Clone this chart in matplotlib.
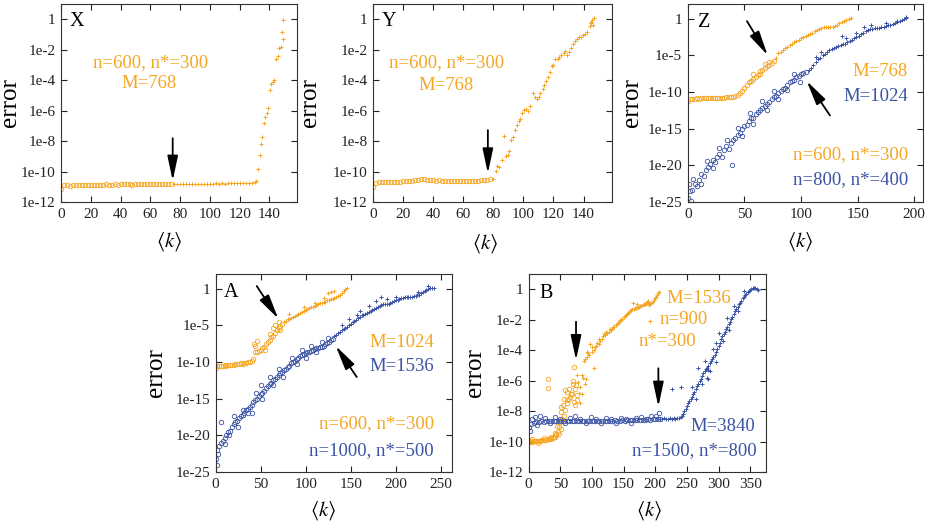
import numpy as np
import matplotlib
matplotlib.use("Agg")
import matplotlib.pyplot as plt
from matplotlib.ticker import NullLocator

plt.rcParams['font.family'] = ['Liberation Serif', 'DejaVu Serif']
plt.rcParams['mathtext.fontset'] = 'stix'

ORANGE = '#F5A623'
BLUE = '#3B53A4'

# values are log10(error), k = <k>

# ---- panel X ----
x_circ_k = np.arange(0, 76, 2)
x_circ_e = [-11.15, -10.9, -10.88, -10.92, -10.9, -10.88, -10.9, -10.86, -10.9, -10.88,
            -10.87, -10.9, -10.88, -10.86, -10.88, -10.85, -10.87, -10.86, -10.84, -10.86,
            -10.84, -10.82, -10.85, -10.83, -10.86, -10.84, -10.83, -10.85, -10.83, -10.84,
            -10.82, -10.83, -10.84, -10.82, -10.83, -10.81, -10.82, -10.81]
x_plus_k = np.arange(76, 131, 2)
x_plus_e = [-10.82, -10.81, -10.82, -10.8, -10.81, -10.8, -10.81, -10.8, -10.79, -10.8,
            -10.8, -10.79, -10.8, -10.79, -10.78, -10.79, -10.78, -10.79, -10.78, -10.77,
            -10.78, -10.77, -10.78, -10.77, -10.76, -10.77, -10.75, -10.72]
x_rise_k = [131.0, 132.4, 133.5, 134.4, 135.1, 136.4, 137.3, 138.2, 139.1, 140.2,
            141.3, 142.4, 143.3, 144.3, 145.4, 146.3, 147.4, 148.3, 149.2, 149.4]
x_rise_e = [-10.6, -9.84, -8.92, -8.2, -7.76, -6.84, -6.45, -6.18, -5.82, -4.63,
            -4.24, -4.11, -3.96, -2.62, -2.4, -1.92, -1.84, -0.87, -1.27, -0.07]

# ---- panel Y ----
y_circ_k = np.arange(0, 80, 2)
y_circ_e = [-11.0, -10.75, -10.7, -10.68, -10.7, -10.68, -10.72, -10.68, -10.7, -10.66,
            -10.65, -10.63, -10.62, -10.6, -10.58, -10.57, -10.52, -10.5, -10.55, -10.56,
            -10.57, -10.6, -10.58, -10.6, -10.61, -10.6, -10.62, -10.6, -10.61, -10.6,
            -10.62, -10.6, -10.61, -10.6, -10.59, -10.6, -10.57, -10.58, -10.55, -10.5]
y_plus_k = [80.0, 81.6, 82.7, 84.0, 85.6, 87.1, 88.3, 89.6, 90.7, 92.0,
            93.1, 94.5, 95.8, 96.9, 98.0, 99.1, 100.5, 101.8, 103.1, 104.5,
            106.5, 107.8, 109.1, 110.3, 111.3, 112.7, 114.0, 115.1, 116.5, 117.8,
            119.1, 120.0, 121.3, 122.7, 124.0, 125.3, 126.7, 127.8, 128.9, 130.3,
            131.6, 132.9, 134.3, 135.6, 136.9, 138.3, 139.6, 140.9, 142.3, 144.0,
            144.9, 145.8, 146.7, 145.3, 146.3]
y_plus_e = [-10.49, -9.95, -9.62, -9.68, -9.27, -7.69, -8.98, -8.92, -8.66, -7.93,
            -7.76, -7.28, -6.95, -6.69, -6.58, -6.18, -5.97, -5.9, -6.03, -5.7,
            -4.87, -5.09, -5.22, -5.11, -4.87, -4.59, -4.33, -4.07, -3.78, -3.45,
            -3.08, -3.02, -2.62, -2.58, -2.49, -2.38, -2.25, -2.1, -2.32, -2.14,
            -1.92, -1.64, -1.4, -1.33, -1.2, -1.14, -1.05, -0.96, -0.87, -0.44,
            -0.28, -0.07, 0.05, -0.2, -0.35]

# ---- panel Z ----
z_o_flat_k = np.arange(0, 44, 2)
z_o_flat_e = [-11.2, -10.95, -10.9, -10.92, -10.88, -10.9, -10.87, -10.88, -10.85, -10.86, -10.84,
              -10.85, -10.82, -10.83, -10.8, -10.8, -10.78, -10.75, -10.72, -10.7, -10.65, -10.55]
z_o_circ_k = np.arange(44, 78, 2)
z_o_circ_e = [-10.4, -10.1, -9.8, -9.5, -9.1, -8.7, -8.5, -8.2, -8.0, -7.7, -7.6, -7.0,
              -6.7, -6.5, -6.3, -6.0, -5.8]
z_o_xtra_k = [50, 56, 58, 64, 68, 72]
z_o_xtra_e = [-9.4, -8.5, -7.5, -7.2, -6.2, -5.9]
z_o_plus_k = np.arange(78, 145, 2)
z_o_plus_e = [-5.3, -4.7, -4.5, -4.25, -4.0, -3.85, -3.6, -3.4, -3.25, -3.05,
              -2.85, -2.65, -2.5, -2.4, -2.25, -2.15, -1.95, -1.75, -1.55, -1.45,
              -1.3, -1.15, -1.1, -1.1, -1.12, -1.08, -1.0, -0.8, -0.65, -0.5,
              -0.35, -0.15, -0.02, 0.05]
z_b_circ_k = np.arange(0, 106, 2)
z_b_circ_e = [-24.5, -23.5, -23.3, -22.5, -22.8, -22.0, -21.2, -21.5, -20.6, -20.2,
              -19.8, -19.3, -19.6, -18.8, -18.5, -18.9, -17.9, -17.4, -17.8, -16.9,
              -16.6, -16.3, -15.9, -15.6, -15.0, -14.7, -14.5, -14.0, -13.6, -13.5,
              -13.0, -12.7, -12.4, -12.2, -11.9, -11.6, -11.4, -11.0, -10.7, -10.5,
              -10.1, -9.9, -9.6, -9.5, -9.0, -8.7, -8.5, -8.3, -8.0, -7.8,
              -7.6, -7.4, -7.3]
z_b_xtra_k = [1, 3, 5, 12, 17, 22, 28, 39, 35, 44, 48, 55, 58, 66, 70, 76, 80, 88, 94, 99]
z_b_xtra_e = [-22.5, -24.8, -21.8, -22.6, -19.4, -20.3, -17.6, -20.0, -16.6, -14.9,
              -16.0, -12.9, -14.3, -11.2, -12.4, -9.9, -11.0, -9.7, -7.6, -8.6]
z_b_plus_k = np.arange(107, 195, 2)
z_b_plus_e = [-7.0, -6.7, -6.3, -5.9, -5.5, -5.3, -5.0, -4.8, -4.6, -4.3,
              -4.1, -4.0, -3.85, -3.75, -3.6, -3.5, -3.4, -3.2, -3.05, -2.9,
              -2.7, -2.5, -2.3, -2.1, -1.9, -1.75, -1.6, -1.45, -1.35, -1.28,
              -1.25, -1.22, -1.2, -1.18, -1.05, -0.9, -0.85, -0.75, -0.6, -0.5,
              -0.35, -0.2, -0.05, 0.1]
z_b_pxtra_k = [113, 118, 136, 140, 149, 156, 162, 175, 185, 193]
z_b_pxtra_e = [-5.2, -4.6, -2.4, -2.7, -1.9, -1.2, -0.9, -0.6, -0.3, 0.25]

# ---- panel A ----
a_o_flat_k = np.arange(0, 42, 2)
a_o_flat_e = [-10.8, -10.6, -10.55, -10.5, -10.52, -10.45, -10.48, -10.4, -10.42, -10.35,
              -10.38, -10.3, -10.3, -10.25, -10.2, -10.22, -10.15, -10.1, -10.05, -10.0, -9.9]
a_o_circ_k = np.arange(42, 76, 2)
a_o_circ_e = [-9.6, -8.7, -8.6, -8.5, -8.3, -8.1, -7.9, -7.6, -7.3, -7.0, -6.6, -6.4,
              -6.0, -5.6, -5.4, -5.1, -4.8]
a_o_xtra_k = [43, 44, 46, 55, 60, 64, 66, 70, 72]
a_o_xtra_e = [-7.5, -7.8, -7.2, -8.3, -6.2, -5.3, -5.0, -4.6, -5.6]
a_o_plus_k = np.arange(76, 148, 2)
a_o_plus_e = [-4.5, -4.35, -4.2, -4.1, -4.0, -3.85, -3.7, -3.55, -3.4, -3.3,
              -3.15, -3.0, -2.85, -2.75, -2.6, -2.5, -2.45, -2.35, -2.25, -2.1,
              -2.0, -1.95, -1.85, -1.75, -1.6, -1.5, -1.4, -1.35, -1.25, -1.1,
              -0.95, -0.8, -0.55, -0.3, -0.05, 0.15]
a_o_pxtra_k = [82, 98, 110, 120, 125, 128, 132]
a_o_pxtra_e = [-3.4, -2.5, -1.9, -1.3, -0.6, -0.5, -0.35]
a_b_circ_k = np.arange(0, 132, 2)
a_b_circ_e = [-23.2, -22.0, -21.4, -21.0, -20.8, -20.3, -19.9, -19.6, -19.4, -18.9,
              -18.5, -18.2, -18.1, -17.7, -17.4, -17.2, -17.0, -16.6, -16.4, -16.1,
              -15.8, -15.4, -15.2, -15.0, -14.7, -14.4, -14.2, -13.9, -13.6, -13.3,
              -13.0, -12.8, -12.5, -12.3, -12.1, -11.8, -11.5, -11.3, -11.1, -10.9,
              -10.7, -10.5, -10.2, -10.0, -9.8, -9.6, -9.4, -9.2, -9.1, -8.9,
              -8.8, -8.7, -8.6, -8.5, -8.35, -8.2, -8.15, -8.1, -8.0, -7.95,
              -7.8, -7.6, -7.4, -7.25, -7.0, -6.8]
a_b_xtra_k = [1, 3, 6, 10, 15, 20, 25, 30, 36, 40, 45, 50, 52, 60, 64, 70, 75, 85, 90,
              96, 100, 106, 112, 118, 125]
a_b_xtra_e = [-24.0, -22.6, -18.2, -21.2, -20.0, -17.4, -18.8, -16.5, -17.0, -16.9,
              -14.2, -13.2, -15.0, -12.0, -13.2, -10.9, -12.0, -9.5, -10.3, -8.3,
              -9.4, -7.8, -8.6, -7.3, -6.7]
a_b_plus_k = np.arange(132, 244, 2)
a_b_plus_e = [-6.5, -6.3, -6.1, -5.9, -5.7, -5.55, -5.4, -5.2, -5.0, -4.8,
              -4.6, -4.45, -4.3, -4.0, -3.8, -3.65, -3.55, -3.45, -3.3, -3.2,
              -3.1, -2.95, -2.8, -2.7, -2.55, -2.4, -2.25, -2.15, -2.1, -2.1,
              -2.05, -2.0, -1.85, -1.7, -1.6, -1.5, -1.4, -1.3, -1.25, -1.2,
              -1.18, -1.15, -1.12, -1.1, -1.05, -1.0, -0.9, -0.8, -0.65, -0.5,
              -0.35, -0.2, -0.05, 0.05, 0.1, 0.05]
a_b_pxtra_k = [140, 148, 157, 160, 170, 178, 184, 190, 200, 225, 236]
a_b_pxtra_e = [-4.9, -4.2, -3.6, -3.0, -2.4, -1.7, -1.2, -1.4, -1.1, -0.4, 0.3]

# ---- panel B ----
b_o_flat_k = np.arange(0, 46, 2)
b_o_flat_e = [-10.05, -10.0, -9.98, -10.0, -9.97, -9.98, -9.95, -9.97, -9.94, -9.95,
              -9.92, -9.93, -9.9, -9.92, -9.88, -9.86, -9.85, -9.8, -9.82, -9.75,
              -9.72, -9.7, -9.6]
b_o_circ_k = [5, 15, 25, 35, 42, 44, 46.5, 47.6, 48, 49.2, 50.5, 51.9, 50.9, 53, 54.5,
              55.5, 56.1, 57.5, 58.3, 60, 61.5, 61.5, 63.6, 64.5, 65.2, 66.5, 67.9, 69.5,
              70.5, 71.5, 72.2, 73.2, 73.5, 75, 75.9, 75.9, 30.5, 30.5, 45]
b_o_circ_e = [-9.85, -10.1, -9.8, -9.7, -9.45, -9.5, -9.4, -9.05, -9.5, -8.72, -9.2,
              -8.06, -7.75, -8.5, -7.62, -8.3, -7.19, -7.9, -6.64, -7.3, -6.75, -7.5,
              -6.53, -7.2, -7.08, -6.9, -6.86, -6.2, -6.05, -7.4, -5.1, -6.53, -7.62,
              -6.3, -6.97, -7.3, -5.87, -6.5, -9.0]
b_o_plus_k = [77, 78.6, 80, 81.2, 82, 83.9, 85, 86, 87.5, 88.5, 89.3, 90, 91.9, 92.5,
              94.6, 96, 97.5, 99.9, 101, 103, 104, 105.3, 107, 108.5, 110.6, 112, 113.5,
              116, 117.5, 119, 121.3, 123, 124.5, 126.7, 128.5, 130, 132, 134, 135.5,
              137.4, 139, 141, 142.7, 144.5, 146, 148, 150, 152, 153.4, 155, 157, 158.7,
              160, 162, 164, 166, 168, 169.4, 171, 173, 174.7, 176, 178, 180.1, 182,
              184, 185.4, 187, 188.5, 190, 190.8, 192, 193.5, 196.1, 198, 200, 201.5,
              203, 204.2, 206, 192, 165.7, 172]
b_o_plus_e = [-5.6, -6.1, -6.8, -6.4, -7.5, -5.65, -6.9, -5.8, -4.7, -6.2, -4.56, -5.9,
              -4.45, -4.1, -4.2, -4.35, -3.6, -4.1, -3.8, -4.0, -5.2, -3.8, -3.7, -3.5,
              -3.57, -3.3, -3.4, -3.24, -3.1, -2.95, -3.0, -2.8, -2.9, -2.8, -2.6, -2.7,
              -2.6, -2.45, -2.5, -2.37, -2.25, -2.2, -2.15, -2.0, -2.05, -1.93, -1.85,
              -1.75, -1.72, -1.6, -1.55, -1.5, -1.4, -1.35, -1.32, -1.28, -1.25, -1.24,
              -1.2, -1.18, -1.17, -1.1, -1.08, -1.06, -1.0, -0.97, -0.95, -0.85, -0.8,
              -0.9, -1.06, -1.0, -0.9, -0.84, -0.7, -0.6, -0.5, -0.4, -0.28, -0.15,
              -2.07, -0.92, -0.95]
b_b_circ_k = np.arange(0, 212, 4)
b_b_circ_e = [-9.05, -8.85, -8.75, -8.7, -8.72, -8.68, -8.7, -8.66, -8.68, -8.65,
              -8.67, -8.64, -8.66, -8.63, -8.65, -8.66, -8.64, -8.65, -8.63, -8.65,
              -8.64, -8.66, -8.63, -8.65, -8.64, -8.62, -8.64, -8.63, -8.65, -8.62,
              -8.63, -8.64, -8.62, -8.63, -8.61, -8.63, -8.62, -8.6, -8.62, -8.6,
              -8.61, -8.6, -8.59, -8.6, -8.58, -8.57, -8.58, -8.55, -8.56, -8.54,
              -8.52, -8.55, -8.5]
b_b_xtra_k = [2, 6, 10, 14, 18, 26, 34, 42, 50, 58, 66, 74, 82, 90, 98, 106, 114, 122,
              130, 138, 146, 154, 162, 170, 178, 186, 194, 202, 206]
b_b_xtra_e = [-9.3, -8.5, -8.4, -8.9, -8.35, -8.45, -8.8, -8.4, -8.5, -8.8, -8.45,
              -8.35, -8.5, -8.8, -8.4, -8.5, -8.8, -8.45, -8.5, -8.75, -8.45, -8.5,
              -8.75, -8.45, -8.4, -8.5, -8.3, -8.35, -8.1]
b_b_flat_k = [208, 211, 214, 217, 220, 223, 226, 229, 232, 235, 238, 240, 242]
b_b_flat_e = [-8.5, -8.55, -8.45, -8.5, -8.55, -8.48, -8.5, -8.45, -8.5, -8.47, -8.45,
              -8.42, -8.3]
b_b_rise_k = np.arange(244, 364, 2)
b_b_rise_e = [-8.2, -8.0, -7.85, -7.65, -7.5, -7.35, -7.2, -7.05, -6.9, -6.75,
              -6.55, -6.35, -6.2, -6.05, -5.9, -5.7, -5.5, -5.4, -5.25, -5.15,
              -5.05, -4.85, -4.7, -4.55, -4.45, -4.3, -4.1, -3.9, -3.7, -3.5,
              -3.3, -3.1, -2.95, -2.8, -2.6, -2.45, -2.3, -2.15, -1.95, -1.8,
              -1.6, -1.45, -1.3, -1.15, -1.0, -0.9, -0.75, -0.6, -0.5, -0.4,
              -0.3, -0.2, -0.12, -0.05, 0.02, 0.05, 0.08, 0.05, 0.0, -0.05]
b_b_pxtra_k = [226, 240, 268, 283, 283, 258, 264, 274, 279, 292, 296, 301, 307, 313,
               317, 325, 331, 340, 296, 286, 281]
b_b_pxtra_e = [-6.57, -6.4, -5.2, -5.3, -5.87, -6.4, -7.2, -6.2, -4.7, -3.9, -4.8,
               -2.9, -3.4, -1.9, -2.7, -1.1, -1.4, -0.1, -3.5, -5.4, -5.8]


def pts(ax, k, e, color, marker):
    y = np.power(10.0, np.asarray(e, dtype=float))
    if marker == 'o':
        ax.plot(k, y, linestyle='none', marker='o', ms=3.2, mfc='none', mec=color, mew=0.6)
    else:
        ax.plot(k, y, linestyle='none', marker='+', ms=3.4, mec=color, mew=0.7)


def arrow(ax, tail, tip):
    ax.annotate('', xy=(tip[0], 10.0 ** tip[1]), xytext=(tail[0], 10.0 ** tail[1]),
                arrowprops=dict(arrowstyle='-|>,head_length=0.75,head_width=0.16',
                                color='black', lw=1.3, mutation_scale=20,
                                shrinkA=0, shrinkB=0))


def setup(ax, xmax, xticks, ylo, yhi, ystep, letter, ylab_x, xlab_x, xlab_y):
    ax.set_yscale('log')
    ax.set_xlim(0, xmax)
    ax.set_ylim(10.0 ** ylo, 10.0 ** yhi)
    ax.set_xticks(xticks)
    powers = list(range(ylo, 1, ystep))
    ax.set_yticks([10.0 ** p for p in powers],
                  ['1' if p == 0 else '1e%d' % p for p in powers])
    ax.yaxis.set_minor_locator(NullLocator())
    ax.tick_params(direction='in', top=True, right=True, length=4, width=0.8,
                   labelsize=11, pad=4, colors='#222222')
    for s in ax.spines.values():
        s.set_linewidth(0.8)
        s.set_color('#333333')
    ax.set_ylabel('error', fontsize=18)
    ax.yaxis.set_label_coords(ylab_x, 0.5)
    ax.set_xlabel(r'$\langle k\rangle$', fontsize=15)
    ax.xaxis.set_label_coords(xlab_x, xlab_y)
    ax.text(letter[1], letter[2], letter[0], transform=ax.transAxes, fontsize=14.5,
            ha='left', va='center')


def label(ax, x, y, s, color, ha='center'):
    ax.text(x, y, s, transform=ax.transAxes, color=color, fontsize=13.5, ha=ha, va='center')


fig = plt.figure(figsize=(9.3, 5.23), dpi=100)

axX = fig.add_axes([0.0656, 0.6138, 0.2538, 0.3786])
axY = fig.add_axes([0.4014, 0.6138, 0.2567, 0.3786])
axZ = fig.add_axes([0.7395, 0.6138, 0.2533, 0.3786])
axA = fig.add_axes([0.2319, 0.0975, 0.2541, 0.3786])
axB = fig.add_axes([0.5683, 0.0975, 0.2554, 0.3786])

# X
pts(axX, x_circ_k, x_circ_e, ORANGE, 'o')
pts(axX, x_plus_k, x_plus_e, ORANGE, '+')
pts(axX, x_rise_k, x_rise_e, ORANGE, '+')
setup(axX, 158.5, range(0, 141, 20), -12, 1, 2, ('X', 0.038, 0.914), -0.17, 0.46, -0.14)
arrow(axX, (75, -7.82), (75, -10.6))
label(axX, 0.381, 0.706, 'n=600, n*=300', ORANGE)
label(axX, 0.373, 0.599, 'M=768', ORANGE)

# Y
pts(axY, y_circ_k, y_circ_e, ORANGE, 'o')
pts(axY, y_plus_k, y_plus_e, ORANGE, '+')
setup(axY, 159, range(0, 141, 20), -12, 1, 2, ('Y', 0.035, 0.914), -0.218, 0.47, -0.15)
arrow(axY, (76.3, -7.28), (76.3, -10.12))
label(axY, 0.307, 0.706, 'n=600, n*=300', ORANGE)
label(axY, 0.303, 0.586, 'M=768', ORANGE)

# Z
pts(axZ, z_o_flat_k, z_o_flat_e, ORANGE, 'o')
pts(axZ, z_o_circ_k, z_o_circ_e, ORANGE, 'o')
pts(axZ, z_o_xtra_k, z_o_xtra_e, ORANGE, 'o')
pts(axZ, z_o_plus_k, z_o_plus_e, ORANGE, '+')
pts(axZ, z_b_circ_k, z_b_circ_e, BLUE, 'o')
pts(axZ, z_b_xtra_k, z_b_xtra_e, BLUE, 'o')
pts(axZ, z_b_plus_k, z_b_plus_e, BLUE, '+')
pts(axZ, z_b_pxtra_k, z_b_pxtra_e, BLUE, '+')
setup(axZ, 208, range(0, 201, 50), -25, 2, 5, ('Z', 0.044, 0.904), -0.19, 0.477, -0.14)
arrow(axZ, (52.3, -0.34), (70.6, -5.0))
arrow(axZ, (125.6, -13.2), (105, -8.5))
label(axZ, 0.935, 0.658, 'M=768', ORANGE, 'right')
label(axZ, 0.935, 0.532, 'M=1024', BLUE, 'right')
label(axZ, 0.935, 0.237, 'n=600, n*=300', ORANGE, 'right')
label(axZ, 0.935, 0.111, 'n=800, n*=400', BLUE, 'right')

# A
pts(axA, a_o_flat_k, a_o_flat_e, ORANGE, 'o')
pts(axA, a_o_circ_k, a_o_circ_e, ORANGE, 'o')
pts(axA, a_o_xtra_k, a_o_xtra_e, ORANGE, 'o')
pts(axA, a_o_plus_k, a_o_plus_e, ORANGE, '+')
pts(axA, a_o_pxtra_k, a_o_pxtra_e, ORANGE, '+')
pts(axA, a_b_circ_k, a_b_circ_e, BLUE, 'o')
pts(axA, a_b_xtra_k, a_b_xtra_e, BLUE, 'o')
pts(axA, a_b_plus_k, a_b_plus_e, BLUE, '+')
pts(axA, a_b_pxtra_k, a_b_pxtra_e, BLUE, '+')
setup(axA, 262.5, range(0, 251, 50), -25, 2, 5, ('A', 0.035, 0.906), -0.208, 0.453, -0.135)
arrow(axA, (45.6, 0.36), (69.6, -4.1))
arrow(axA, (156.7, -12.05), (133.3, -7.8))
label(axA, 0.924, 0.655, 'M=1024', ORANGE, 'right')
label(axA, 0.924, 0.532, 'M=1536', BLUE, 'right')
label(axA, 0.924, 0.242, 'n=600, n*=300', ORANGE, 'right')
label(axA, 0.924, 0.108, 'n=1000, n*=500', BLUE, 'right')

# B
pts(axB, b_o_flat_k, b_o_flat_e, ORANGE, 'o')
pts(axB, b_o_circ_k, b_o_circ_e, ORANGE, 'o')
pts(axB, b_o_plus_k, b_o_plus_e, ORANGE, '+')
pts(axB, b_b_circ_k, b_b_circ_e, BLUE, 'o')
pts(axB, b_b_xtra_k, b_b_xtra_e, BLUE, 'o')
pts(axB, b_b_flat_k, b_b_flat_e, BLUE, '+')
pts(axB, b_b_rise_k, b_b_rise_e, BLUE, '+')
pts(axB, b_b_pxtra_k, b_b_pxtra_e, BLUE, '+')
setup(axB, 375, range(0, 351, 50), -12, 1, 2, ('B', 0.044, 0.903), -0.177, 0.51, -0.135)
arrow(axB, (75, -2.13), (75, -4.65))
arrow(axB, (205, -5.19), (205, -7.71))
label(axB, 0.718, 0.877, 'M=1536', ORANGE)
label(axB, 0.655, 0.771, 'n=900', ORANGE)
label(axB, 0.584, 0.658, 'n*=300', ORANGE)
label(axB, 0.955, 0.229, 'M=3840', BLUE, 'right')
label(axB, 0.96, 0.108, 'n=1500, n*=800', BLUE, 'right')

fig.savefig('out.png', dpi=100)
